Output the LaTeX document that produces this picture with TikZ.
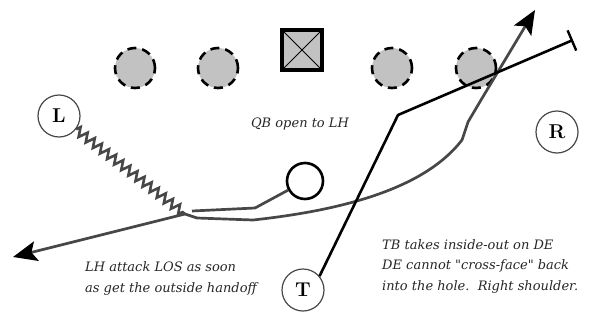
\documentclass[tikz,border=0pt]{standalone}
\usepackage{fontspec}
\usetikzlibrary{arrows.meta,decorations.pathmorphing}
\newfontfamily\notefont{DejaVu Serif}
\definecolor{runline}{gray}{0.28}
\definecolor{dlfill}{gray}{0.76}
\tikzset{dlman/.style={draw=black,fill=dlfill,circle,dash pattern=on 9pt off 6pt,line width=2.6pt,minimum size=40pt,inner sep=0},
    snapbox/.style={draw=black,fill=dlfill,rectangle,line width=3.2pt,minimum size=40pt,inner sep=0},
    back/.style={draw=runline,circle,line width=1.2pt,minimum size=42pt,inner sep=0,font=\fontsize{20}{20}\selectfont\bfseries},
    qback/.style={draw=black,circle,line width=2.6pt,minimum size=36pt,inner sep=0},
    run/.style={draw=runline,line width=2.7pt,line join=round},
    block/.style={draw=black,line width=2.6pt,line join=round},
    motion/.style={draw=runline,line width=2.6pt,decorate,decoration={zigzag,segment length=9pt,amplitude=4.5pt}},
    bigtip/.style={-{Stealth[color=black,length=24pt,width=20pt,inset=5pt]}},
    note/.style={font=\notefont\itshape\fontsize{13}{20.5}\selectfont,align=left,inner sep=0,text=black!85}
}

\begin{document}
\begin{tikzpicture}[x=1pt,y=-1pt]
\useasboundingbox (0,0) rectangle (589,335);

\node (dl 1) [dlman] at (135,68) {};
\node (dl 2) [dlman] at (218,68) {};
\node (ut) [snapbox] at (302,50) {};
\node (dl 3) [dlman] at (392,68) {};
\node (dl 4) [dlman] at (476,68) {};
\draw [line width=0.8pt] (ut.north west) -- (ut.south east) (ut.north east) -- (ut.south west);

\node (L) [back] at (59,116) {L};
\node (R) [back] at (557,132) {R};
\node (T) [back] at (303,290) {T};
\node (qb) [qback] at (305,181) {};

\coordinate (mesh) at (185,214);
\coordinate (lh 1) at (197,218);
\coordinate (lh 2) at (253,220);
\coordinate (lh 3) at (462,140);
\coordinate (lh 4) at (468,122);
\coordinate (lh 5) at (481,100);
\coordinate (lh tip) at (535,10);
\coordinate (pitch) at (13,257);
\coordinate (qb 1) at (255,208);
\coordinate (qb 2) at (192,211);
\coordinate (tb 1) at (398,115);
\coordinate (tb 2) at (573,40);

\draw [motion] (L) -- (mesh);
\draw [run,bigtip] (mesh) -- (pitch);
\draw [run] (qb) -- (qb 1) -- (qb 2);
\draw [run,bigtip] (mesh) -- (lh 1) -- (lh 2) .. controls (345,210) and (425,188) .. (lh 3) -- (lh 4) -- (lh 5) -- (lh tip);
\draw [block,-{Bar[width=22pt,line width=2.4pt]}] (T.40) -- (tb 1) -- (tb 2);

\node (qbnote) [note] at (300,124) {QB open to LH};
\node (lhnote) [note,anchor=base west] at (85,292) {LH attack LOS as soon\\as get the outside handoff};
\node (tbnote) [note,anchor=base west] at (382,290) {TB takes inside-out on DE\\DE cannot "cross-face" back\\into the hole.\ \ Right shoulder.};

\end{tikzpicture}
\end{document}
